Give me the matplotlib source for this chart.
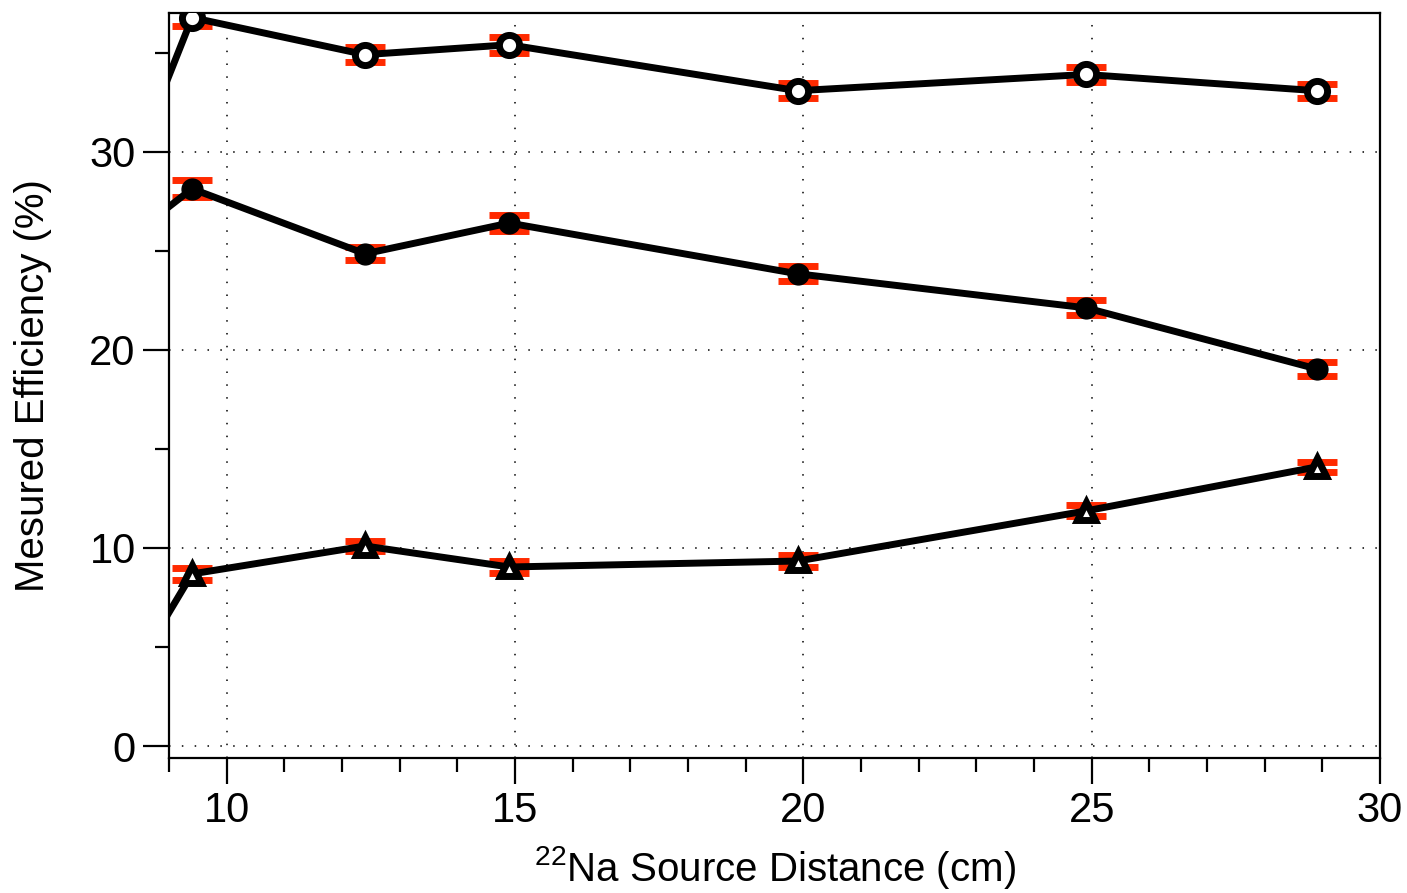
import matplotlib
matplotlib.use("Agg")
import matplotlib.pyplot as plt
from matplotlib.ticker import MultipleLocator

plt.rcParams['font.family'] = ['Liberation Sans', 'DejaVu Sans']
plt.rcParams['mathtext.fontset'] = 'custom'
plt.rcParams['mathtext.rm'] = 'Liberation Sans'

# Source distances (cm); the first entry lies left of the plotted range
distance = [8.0, 9.4, 12.4, 14.9, 19.9, 24.9, 28.9]

eff_open = [26.5, 36.77, 34.9, 35.4, 33.08, 33.9, 33.08]
err_open = [0.4, 0.4, 0.39, 0.4, 0.38, 0.4, 0.36]

eff_filled = [24.96, 28.13, 24.85, 26.4, 23.84, 22.12, 19.04]
err_filled = [0.4, 0.43, 0.34, 0.4, 0.38, 0.38, 0.36]

eff_tri = [1.88, 8.69, 10.1, 9.04, 9.34, 11.87, 14.09]
err_tri = [0.28, 0.29, 0.26, 0.28, 0.28, 0.28, 0.27]

red = '#ff2a00'

fig = plt.figure(figsize=(14.07, 8.93), dpi=100)
ax = fig.add_axes([0.1201, 0.1512, 0.8607, 0.8342])

series = [
    (eff_open, err_open, dict(marker='o', ms=14.5, mfc='white', mec='black', mew=5)),
    (eff_filled, err_filled, dict(marker='o', ms=15, mfc='black', mec='black', mew=1)),
    (eff_tri, err_tri, dict(marker='^', ms=13.5, mfc='white', mec='black', mew=5)),
]

for vals, errs, mk in series:
    ax.errorbar(distance, vals, yerr=errs, fmt='none', ecolor=red,
                elinewidth=0, capsize=14.5, capthick=5, zorder=2)
    ax.plot(distance, vals, color='black', lw=5, zorder=3, **mk)

ax.set_xlim(9, 30)
ax.set_ylim(-0.6, 37.0)

ax.xaxis.set_major_locator(MultipleLocator(5))
ax.xaxis.set_minor_locator(MultipleLocator(1))
ax.yaxis.set_major_locator(MultipleLocator(10))
ax.yaxis.set_minor_locator(MultipleLocator(5))

ax.tick_params(axis='both', which='major', direction='out', length=19,
               width=1.6, labelsize=30, pad=5)
ax.tick_params(axis='both', which='minor', direction='out', length=10, width=1.6)
ax.tick_params(top=False, right=False)

for s in ax.spines.values():
    s.set_linewidth(1.6)

ax.grid(True, which='major', color='black', linestyle=(0, (1, 7.4)), linewidth=1.1)
ax.set_axisbelow(True)

ax.set_xlabel(r'$^{22}$Na Source Distance (cm)', fontsize=29, labelpad=9)
ax.set_ylabel('Mesured Efficiency (%)', fontsize=29, labelpad=27)

fig.savefig('out.png', dpi=100)
